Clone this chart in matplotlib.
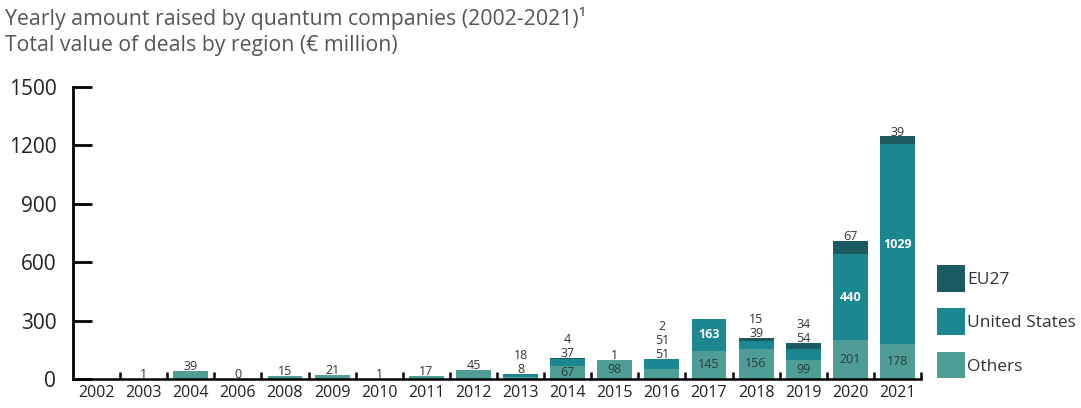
import matplotlib
matplotlib.use("Agg")
import matplotlib.pyplot as plt
import numpy as np

years = ["2002", "2003", "2004", "2006", "2008", "2009", "2010", "2011", "2012",
         "2013", "2014", "2015", "2016", "2017", "2018", "2019", "2020", "2021"]
others = [0, 1, 39, 0, 15, 21, 1, 17, 45, 8, 67, 98, 51, 145, 156, 99, 201, 178]
united_states = [0, 0, 0, 0, 0, 0, 0, 0, 0, 18, 37, 1, 51, 163, 39, 54, 440, 1029]
eu27 = [0, 0, 0, 0, 0, 0, 0, 0, 0, 0, 4, 0, 2, 0, 15, 34, 67, 39]
# segments labelled inside the bar (others / united states); the rest are stacked above
others_inside = [False]*10 + [True, True, False, True, True, True, True, True]
us_inside = [False]*13 + [True, False, False, True, True]
no_label_years = ["2002"]

yticks = [0, 300, 600, 900, 1200, 1500]

c_others = "#4f9d97"
c_us = "#1b8891"
c_eu = "#1c5a62"

plt.rcParams['font.family'] = ['Open Sans', 'DejaVu Sans']

fig = plt.figure(figsize=(10.81, 4.08), dpi=100)
ax = fig.add_axes([73/1081, 1-379/408, (921-73)/1081, (379-87)/408])

x = np.arange(len(years))
o = np.array(others, float)
u = np.array(united_states, float)
e = np.array(eu27, float)
w = 0.74
b_o = ax.bar(x, o, w, color=c_others, label="Others", zorder=2)
b_u = ax.bar(x, u, w, bottom=o, color=c_us, label="United States", zorder=2)
b_e = ax.bar(x, e, w, bottom=o+u, color=c_eu, label="EU27", zorder=2)

lab_fs = 9
for i, yr in enumerate(years):
    if yr in no_label_years:
        continue
    top = o[i] + u[i] + e[i]
    above = []
    if others_inside[i]:
        ax.text(x[i], o[i]/2, f"{others[i]}", ha="center", va="center",
                fontsize=lab_fs, color="#2a3a3a", zorder=3)
    else:
        above.append(others[i])
    if u[i] > 0:
        if us_inside[i]:
            ax.text(x[i], o[i] + u[i]/2, f"{united_states[i]}", ha="center", va="center",
                    fontsize=lab_fs, color="white", fontweight="bold", zorder=3)
        else:
            above.append(united_states[i])
    if e[i] > 0:
        above.append(eu27[i])
    for k, v in enumerate(above):
        ax.annotate(f"{v}", (x[i], top), xytext=(0, -1.5 + k*10), textcoords="offset points",
                    ha="center", va="bottom", fontsize=lab_fs, color="#333333", zorder=3)

ax.set_xlim(-0.5, len(years)-0.5)
ax.set_ylim(0, 1500)
ax.set_xticks(x)
ax.set_xticklabels(years, fontsize=11.5, color="#222222")
ax.set_xticks(np.arange(0.5, len(years), 1.0), minor=True)
ax.tick_params(axis="x", which="major", length=0, pad=4)
ax.tick_params(axis="x", which="minor", direction="in", length=5, width=1.8, color="black")
ax.set_yticks(yticks)
ax.set_yticklabels([str(t) for t in yticks], fontsize=15, color="#222222")
ax.tick_params(axis="y", direction="in", length=14, width=2, pad=12, color="black")
for s in ["top", "right"]:
    ax.spines[s].set_visible(False)
ax.spines["left"].set_linewidth(2)
ax.spines["bottom"].set_linewidth(1.8)

fig.text(5/1081, 1-18/408, "Yearly amount raised by quantum companies (2002-2021)\u00b9",
         fontsize=15.3, color="#555555", va="center", ha="left")
fig.text(5/1081, 1-46/408, "Total value of deals by region (€ million)",
         fontsize=15.3, color="#555555", va="center", ha="left")

leg = fig.legend(handles=[b_e, b_u, b_o], labels=["EU27", "United States", "Others"],
                 loc="upper left", bbox_to_anchor=(937/1081, 1-265/408), frameon=False,
                 fontsize=12.5, handlelength=1.6, handleheight=2.0, labelspacing=0.95,
                 handletextpad=0.15, borderpad=0, borderaxespad=0)
for t in leg.get_texts():
    t.set_color("#333333")

fig.savefig("out.png", dpi=100)
